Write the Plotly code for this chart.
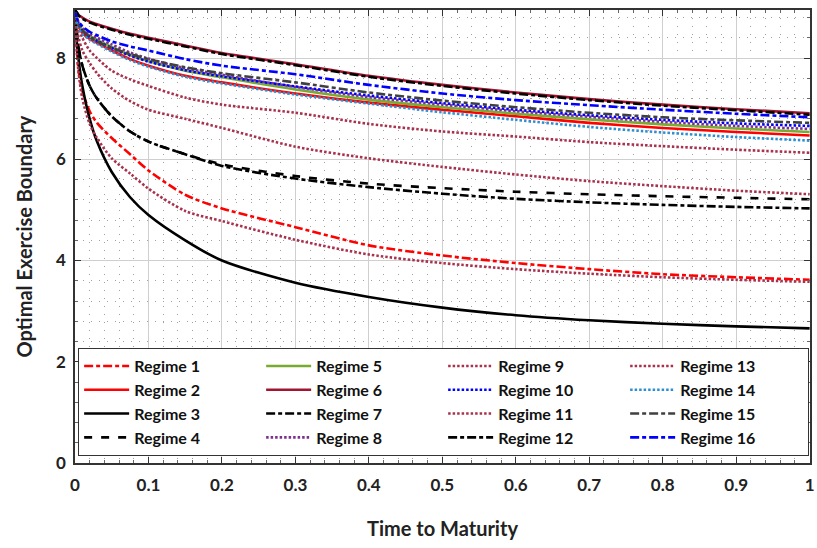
import plotly.graph_objects as go

# Time to maturity grid
T = [0, 0.0025, 0.005, 0.01, 0.02, 0.03, 0.05, 0.075, 0.1, 0.15, 0.2,
     0.3, 0.4, 0.5, 0.6, 0.7, 0.8, 0.9, 1.0]

# Optimal exercise boundary per regime
R1 = [8.9, 8.2, 7.75, 7.35, 6.95, 6.72, 6.42, 6.1, 5.78, 5.3, 5.03, 4.66, 4.3, 4.1, 3.95, 3.83, 3.73, 3.67, 3.62]
R2 = [8.9, 8.72, 8.62, 8.5, 8.38, 8.3, 8.15, 7.98, 7.85, 7.65, 7.52, 7.3, 7.12, 6.98, 6.85, 6.72, 6.62, 6.54, 6.47]
R3 = [8.9, 8.3, 7.95, 7.45, 6.8, 6.35, 5.75, 5.25, 4.9, 4.4, 4.0, 3.56, 3.28, 3.07, 2.92, 2.82, 2.75, 2.70, 2.66]
R4 = [8.9, 8.5, 8.2, 7.85, 7.45, 7.2, 6.85, 6.55, 6.35, 6.1, 5.9, 5.67, 5.52, 5.43, 5.36, 5.31, 5.27, 5.24, 5.21]
R5 = [8.9, 8.75, 8.66, 8.56, 8.44, 8.36, 8.22, 8.06, 7.94, 7.75, 7.62, 7.38, 7.18, 7.03, 6.9, 6.79, 6.69, 6.61, 6.54]
R6 = [8.95, 8.9, 8.85, 8.8, 8.72, 8.67, 8.58, 8.48, 8.4, 8.25, 8.1, 7.88, 7.65, 7.47, 7.32, 7.19, 7.08, 6.99, 6.91]
R7 = [8.9, 8.5, 8.2, 7.85, 7.45, 7.2, 6.85, 6.55, 6.35, 6.1, 5.87, 5.62, 5.45, 5.32, 5.22, 5.15, 5.1, 5.06, 5.03]
R8 = [8.9, 8.78, 8.7, 8.6, 8.48, 8.4, 8.27, 8.11, 7.99, 7.8, 7.67, 7.43, 7.23, 7.08, 6.95, 6.84, 6.74, 6.66, 6.6]
R9 = [8.9, 8.75, 8.6, 8.4, 8.15, 8.0, 7.75, 7.58, 7.45, 7.22, 7.08, 6.92, 6.7, 6.55, 6.45, 6.34, 6.26, 6.19, 6.13]
R10 = [8.9, 8.74, 8.65, 8.54, 8.42, 8.34, 8.2, 8.05, 7.93, 7.76, 7.64, 7.44, 7.26, 7.11, 6.98, 6.87, 6.78, 6.71, 6.66]
R11 = [8.9, 8.1, 7.7, 7.2, 6.7, 6.42, 6.02, 5.72, 5.42, 4.98, 4.78, 4.41, 4.12, 3.95, 3.83, 3.74, 3.67, 3.62, 3.58]
R12 = [8.95, 8.9, 8.84, 8.78, 8.7, 8.65, 8.56, 8.46, 8.38, 8.23, 8.08, 7.86, 7.63, 7.45, 7.3, 7.17, 7.06, 6.97, 6.88]
R13 = [8.9, 8.6, 8.4, 8.15, 7.9, 7.7, 7.4, 7.15, 6.98, 6.8, 6.62, 6.25, 6.02, 5.85, 5.7, 5.57, 5.47, 5.38, 5.31]
R14 = [8.9, 8.7, 8.6, 8.48, 8.36, 8.28, 8.13, 7.96, 7.83, 7.63, 7.5, 7.28, 7.1, 6.93, 6.78, 6.64, 6.53, 6.44, 6.37]
R15 = [8.9, 8.75, 8.65, 8.55, 8.42, 8.33, 8.2, 8.08, 7.98, 7.82, 7.7, 7.52, 7.32, 7.16, 7.03, 6.92, 6.83, 6.77, 6.72]
R16 = [8.9, 8.8, 8.72, 8.63, 8.52, 8.45, 8.33, 8.23, 8.15, 7.98, 7.85, 7.68, 7.47, 7.3, 7.17, 7.07, 6.98, 6.9, 6.83]

SERIES = [R1, R2, R3, R4, R5, R6, R7, R8, R9, R10, R11, R12, R13, R14, R15, R16]
NAMES = ["Regime %d" % (i + 1) for i in range(16)]
X_TICKS = [0, 0.1, 0.2, 0.3, 0.4, 0.5, 0.6, 0.7, 0.8, 0.9, 1]
X_LABELS = ["0", "0.1", "0.2", "0.3", "0.4", "0.5", "0.6", "0.7", "0.8", "0.9", "1"]
Y_TICKS = [0, 2, 4, 6, 8]

RED = "#FF0000"
MAROON = "#A2142F"
MDOT = "#A8324E"
DASHDOT = "9px,3px,4px,3px"
DOT = "2.5px,2px"
STYLES = [
    (RED, DASHDOT), (RED, "solid"), ("#000000", "solid"), ("#000000", "8px,9px"),
    ("#77AC30", "solid"), (MAROON, "solid"), ("#000000", DASHDOT), ("#7E2F8E", DOT),
    (MDOT, DOT), ("#0000FF", DOT), (MDOT, DOT), ("#000000", DASHDOT),
    (MDOT, DOT), ("#2E8FD0", DOT), ("#404040", DASHDOT), ("#0000FF", DASHDOT),
]

fig = go.Figure()
for i, (ys, name, (col, dash)) in enumerate(zip(SERIES, NAMES, STYLES)):
    colidx, row = i // 4, i % 4
    fig.add_trace(go.Scatter(
        x=T, y=ys, name=name, mode="lines",
        line=dict(color=col, dash=dash, width=2.6, shape="spline", smoothing=0.8),
        legendrank=100 + row * 4 + colidx,
    ))

FONT = "Lato"
axis_common = dict(
    showline=True, linecolor="#333333", linewidth=1.5, mirror="ticks",
    ticks="inside", ticklen=6, tickcolor="#333333",
    showgrid=True, gridcolor="#cfcfcf", gridwidth=1,
    zeroline=False, automargin=False,
    tickfont=dict(family=FONT, size=17, color="#222222", weight="bold"),
)
minor_common = dict(showgrid=True, griddash="1px,7px", gridcolor="#a0a0a0", gridwidth=1,
                    ticks="inside", ticklen=3, tickcolor="#666666")

fig.update_layout(
    width=817, height=548,
    margin=dict(l=75, r=7, t=10, b=85),
    paper_bgcolor="white", plot_bgcolor="white",
    font=dict(family=FONT, color="#222222"),
    xaxis=dict(
        range=[0, 1.0005], tickvals=X_TICKS, ticktext=X_LABELS,
        title=dict(text="Time to Maturity", font=dict(family=FONT, size=20, weight="bold"), standoff=28),
        minor=dict(dtick=0.02, **minor_common),
        ticklabelstandoff=6,
        **axis_common,
    ),
    yaxis=dict(
        range=[0, 8.95], tickvals=Y_TICKS,
        title=dict(text="Optimal Exercise Boundary", font=dict(family=FONT, size=20, weight="bold"), standoff=18),
        minor=dict(dtick=0.4, **minor_common),
        ticklabelstandoff=4,
        **axis_common,
    ),
    legend=dict(
        orientation="h", x=0.004, y=0.135, xanchor="left", yanchor="middle",
        bgcolor="white", bordercolor="#333333", borderwidth=1.2,
        entrywidth=122, entrywidthmode="pixels",
        font=dict(family=FONT, size=16, color="#111111", weight="bold"),
        itemwidth=45,
    ),
    showlegend=True,
)

fig.write_html("out.html", config={"displayModeBar": False},
               post_script="document.body.style.margin='0';document.body.style.overflow='hidden';")
